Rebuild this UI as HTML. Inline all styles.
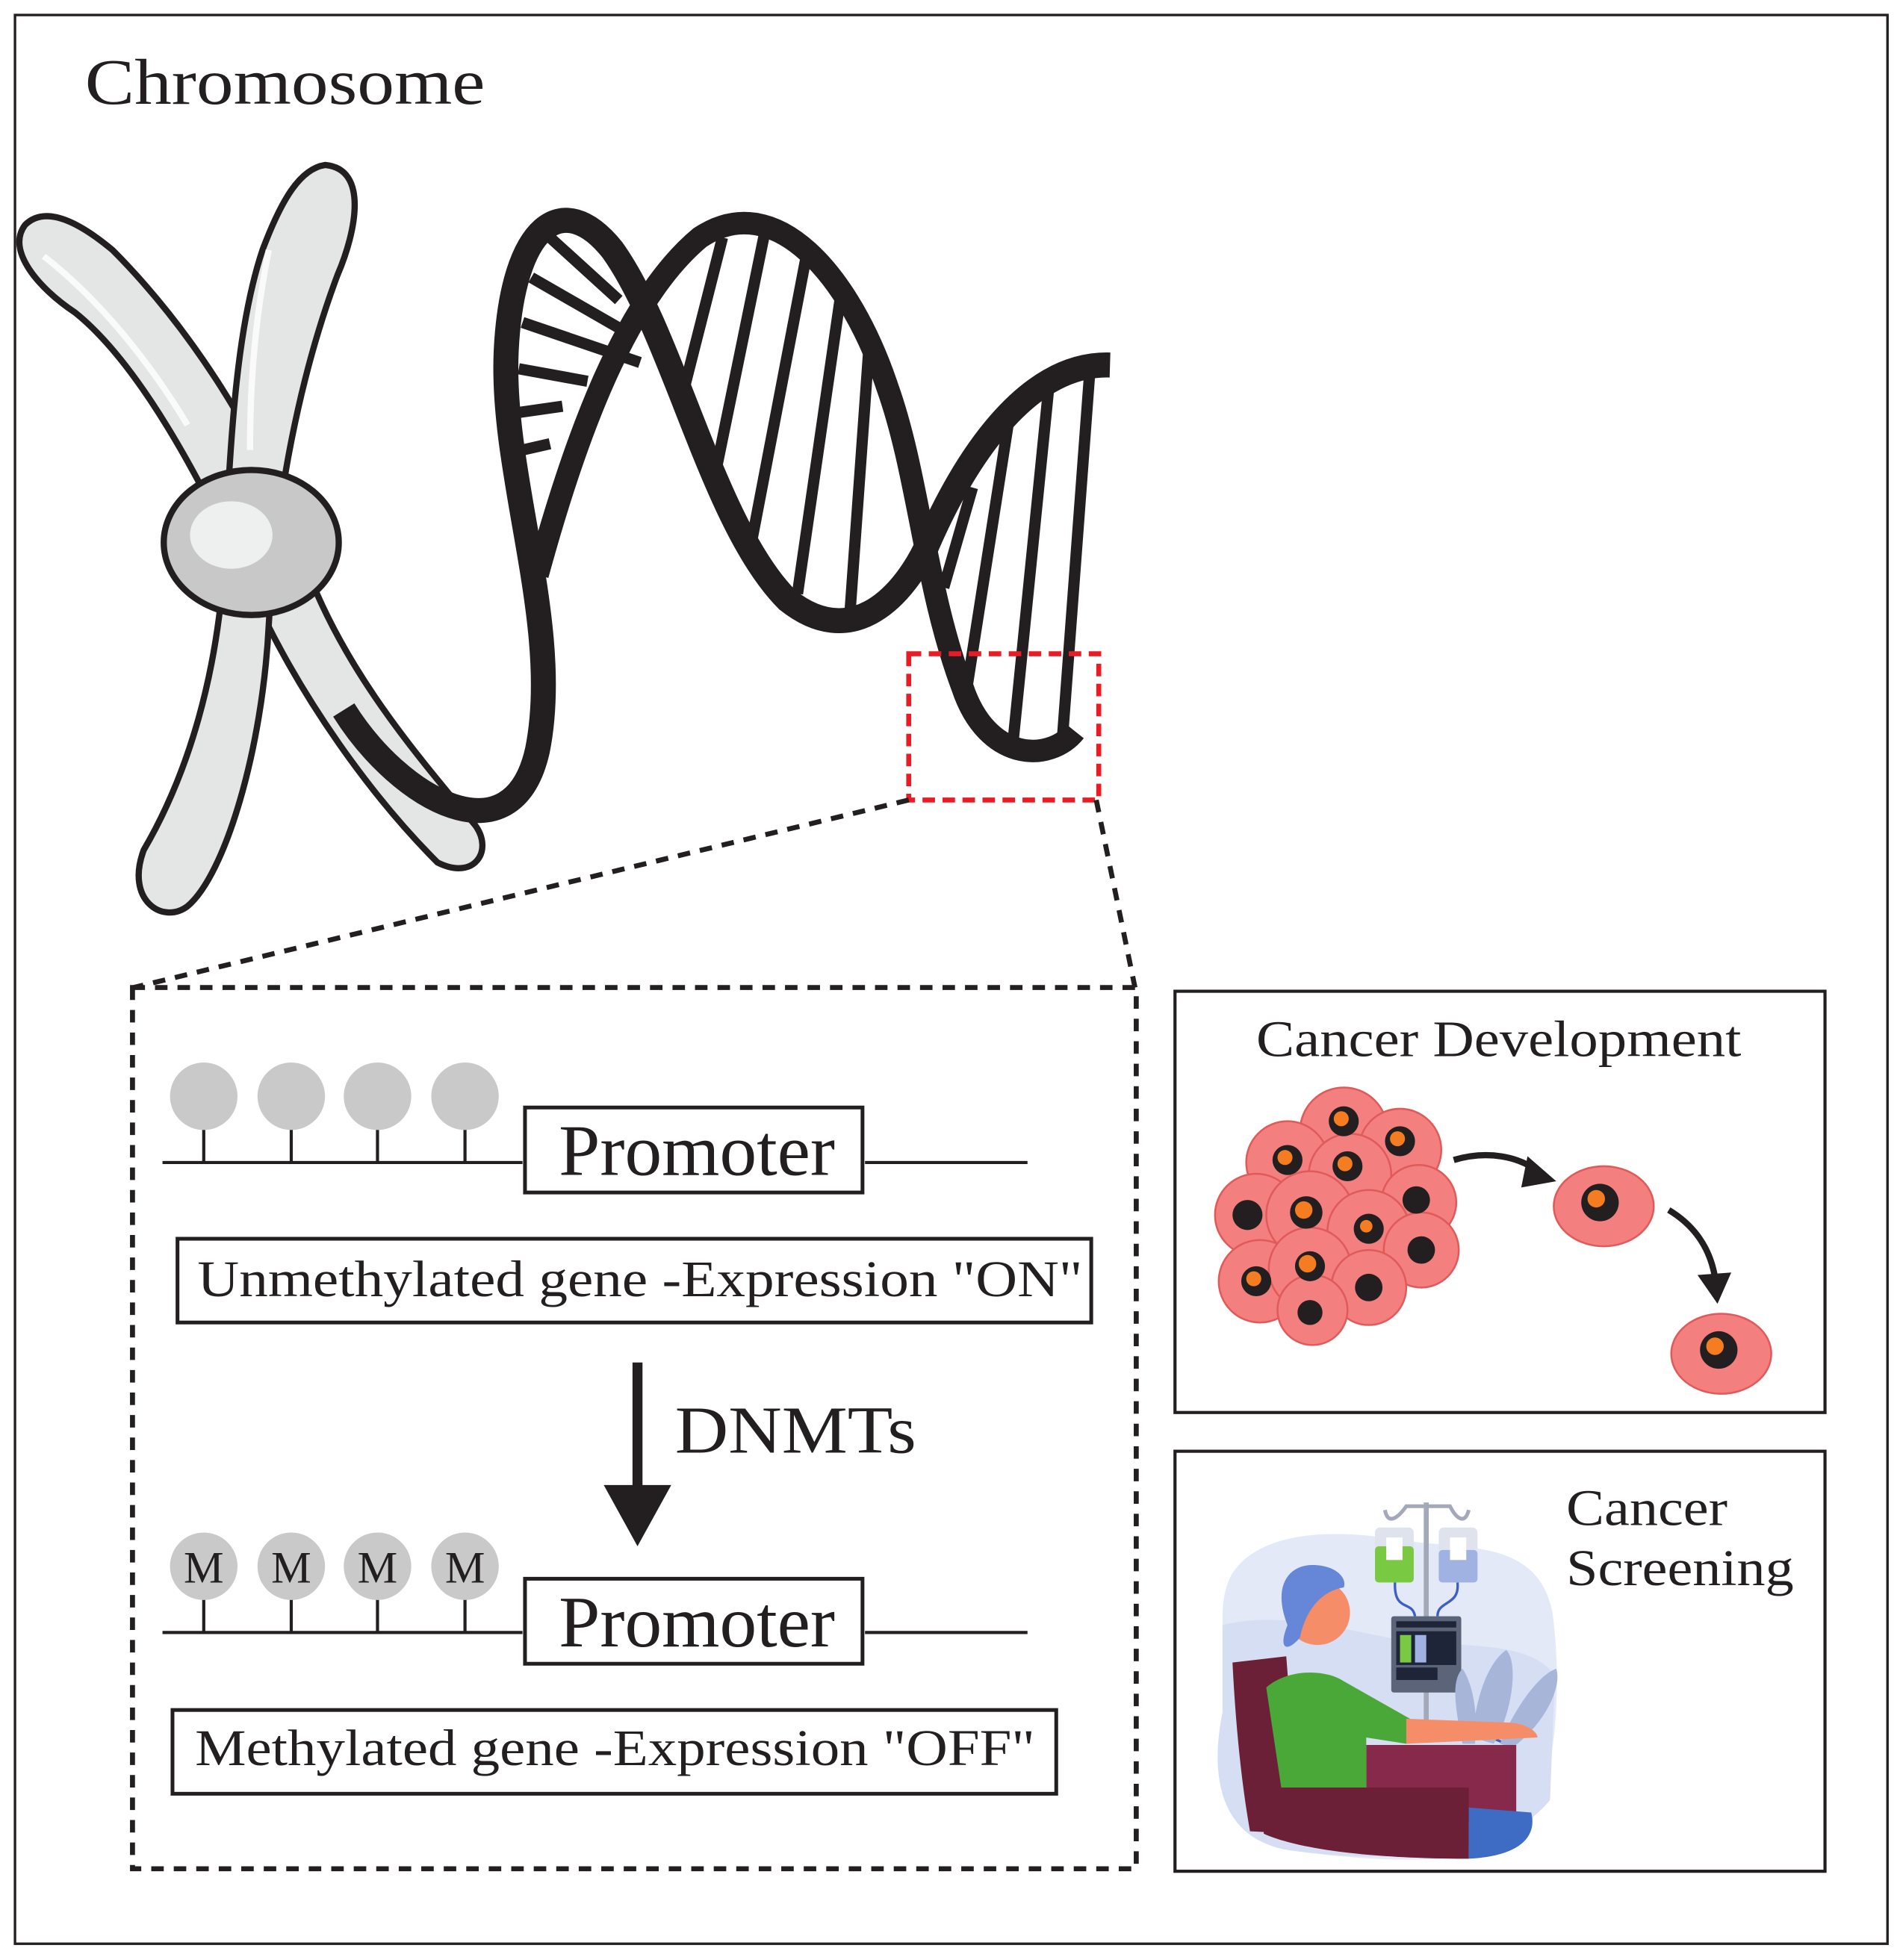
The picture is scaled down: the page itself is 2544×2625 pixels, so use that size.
<!DOCTYPE html>
<html><head><meta charset="utf-8"><style>
html,body{margin:0;padding:0;background:#fff;}
svg{display:block;}
text{font-family:"Liberation Serif",serif;fill:#231f20;}
</style></head><body>
<svg width="2544" height="2625" viewBox="0 0 1520 1568" preserveAspectRatio="none" xmlns="http://www.w3.org/2000/svg">
<rect x="12" y="12" width="1498" height="1543" fill="#fff" stroke="#231f20" stroke-width="2"/>
<text x="68" y="83" font-size="52" textLength="320" lengthAdjust="spacingAndGlyphs">Chromosome</text>

<!-- chromosome -->
<g stroke="#231f20" stroke-width="5" fill="#e4e6e5">
<path d="M20,180 C5,200 30,230 60,250 C110,290 160,380 200,470 C240,560 300,640 350,690 C380,705 395,680 380,660 C330,600 270,530 240,440 C210,350 150,260 90,200 C60,175 35,165 20,180 Z"/>
<path d="M260,132 C240,135 225,160 210,200 C190,260 185,340 180,440 C175,540 150,620 115,680 C100,720 130,740 150,725 C180,700 210,600 215,500 C220,400 240,300 270,220 C285,185 295,135 260,132 Z"/>
<ellipse cx="201" cy="434" rx="70" ry="58" fill="#c7c8c7"/>
</g>
<ellipse cx="185" cy="428" rx="33" ry="27" fill="#eef0ef"/>
<path d="M35,205 C80,240 120,290 150,340" stroke="#fff" stroke-width="5" fill="none" opacity=".8"/>
<path d="M215,200 C205,250 200,300 200,360" stroke="#fff" stroke-width="5" fill="none" opacity=".8"/>

<!-- DNA helix -->
<g stroke="#231f20" fill="none" stroke-linecap="butt">
<path d="M275,568 C320,640 410,690 430,600 C450,500 400,380 405,280 C410,180 450,150 490,200 C540,270 570,420 630,480 C680,520 720,480 740,440 C770,370 820,290 888,292" stroke-width="20"/>
<path d="M430,460 C460,350 500,240 560,190 C620,150 680,220 710,310 C735,380 740,470 770,550 C790,610 840,610 860,585" stroke-width="18"/>
<g stroke-width="9">
<line x1="440" y1="190" x2="495" y2="240"/>
<line x1="425" y1="222" x2="505" y2="268"/>
<line x1="418" y1="258" x2="512" y2="290"/>
<line x1="415" y1="295" x2="470" y2="305"/>
<line x1="415" y1="330" x2="450" y2="325"/>
<line x1="418" y1="360" x2="440" y2="355"/>
<line x1="578" y1="190" x2="545" y2="320"/>
<line x1="612" y1="185" x2="570" y2="390"/>
<line x1="645" y1="205" x2="600" y2="440"/>
<line x1="672" y1="240" x2="638" y2="475"/>
<line x1="695" y1="280" x2="680" y2="490"/>
<line x1="778" y1="390" x2="755" y2="470"/>
<line x1="808" y1="330" x2="772" y2="560"/>
<line x1="840" y1="300" x2="810" y2="598"/>
<line x1="872" y1="295" x2="850" y2="590"/>
</g>
</g>

<!-- red dashed box -->
<rect x="727" y="523" width="152" height="117" fill="none" stroke="#e81c24" stroke-width="4" stroke-dasharray="10,6"/>
<g stroke="#231f20" stroke-width="4" stroke-dasharray="10,8" fill="none">
<line x1="727" y1="640" x2="107" y2="790"/>
<line x1="877" y1="640" x2="908" y2="790"/>
<rect x="106" y="790" width="803" height="705"/>
</g>

<g stroke="#231f20" stroke-width="2.5">
<line x1="130" y1="930" x2="418" y2="930"/>
<line x1="692" y1="930" x2="822" y2="930"/>
<line x1="163" y1="900" x2="163" y2="930"/><line x1="233" y1="900" x2="233" y2="930"/>
<line x1="302" y1="900" x2="302" y2="930"/><line x1="372" y1="900" x2="372" y2="930"/>
<line x1="130" y1="1306" x2="418" y2="1306"/>
<line x1="692" y1="1306" x2="822" y2="1306"/>
<line x1="163" y1="1278" x2="163" y2="1306"/><line x1="233" y1="1278" x2="233" y2="1306"/>
<line x1="302" y1="1278" x2="302" y2="1306"/><line x1="372" y1="1278" x2="372" y2="1306"/>
</g>
<g fill="#c8c9c8">
<circle cx="163" cy="877" r="27"/><circle cx="233" cy="877" r="27"/><circle cx="302" cy="877" r="27"/><circle cx="372" cy="877" r="27"/>
<circle cx="163" cy="1253" r="27"/><circle cx="233" cy="1253" r="27"/><circle cx="302" cy="1253" r="27"/><circle cx="372" cy="1253" r="27"/>
</g>
<g font-size="36" text-anchor="middle">
<text x="163" y="1266">M</text><text x="233" y="1266">M</text><text x="302" y="1266">M</text><text x="372" y="1266">M</text>
</g>
<g fill="#fff" stroke="#231f20" stroke-width="3">
<rect x="420" y="886" width="270" height="68"/>
<rect x="420" y="1263" width="270" height="68"/>
<rect x="142" y="991" width="731" height="67"/>
<rect x="138" y="1368" width="707" height="67"/>
</g>
<text x="447" y="940" font-size="58" textLength="221" lengthAdjust="spacingAndGlyphs">Promoter</text>
<text x="447" y="1317" font-size="58" textLength="221" lengthAdjust="spacingAndGlyphs">Promoter</text>
<text x="158" y="1037" font-size="41" textLength="708" lengthAdjust="spacingAndGlyphs">Unmethylated gene -Expression "ON"</text>
<text x="156" y="1412" font-size="41" textLength="672" lengthAdjust="spacingAndGlyphs">Methylated gene -Expression "OFF"</text>
<line x1="510" y1="1090" x2="510" y2="1192" stroke="#231f20" stroke-width="8"/>
<polygon points="483,1188 537,1188 510,1237" fill="#231f20"/>
<text x="540" y="1162" font-size="54" textLength="193" lengthAdjust="spacingAndGlyphs">DNMTs</text>

<!-- right boxes -->
<rect x="940" y="793" width="520" height="337" fill="#fff" stroke="#231f20" stroke-width="2.5"/>
<rect x="940" y="1161" width="520" height="336" fill="#fff" stroke="#231f20" stroke-width="2.5"/>
<text x="1005" y="845" font-size="41" textLength="388" lengthAdjust="spacingAndGlyphs">Cancer Development</text>
<text x="1253" y="1220" font-size="41" textLength="129" lengthAdjust="spacingAndGlyphs">Cancer</text>
<text x="1253" y="1268" font-size="41" textLength="182" lengthAdjust="spacingAndGlyphs">Screening</text>

<!-- cells -->
<g stroke="#e05a5a" stroke-width="1.5" fill="#f47f7f">
<circle cx="1075" cy="905" r="35"/><circle cx="1120" cy="920" r="33"/><circle cx="1030" cy="930" r="33"/>
<circle cx="1080" cy="940" r="33"/><circle cx="1135" cy="962" r="30"/><circle cx="1005" cy="972" r="33"/>
<circle cx="1048" cy="972" r="35"/><circle cx="1095" cy="985" r="33"/><circle cx="1137" cy="1000" r="30"/>
<circle cx="1008" cy="1025" r="33"/><circle cx="1048" cy="1015" r="33"/><circle cx="1095" cy="1030" r="30"/>
<circle cx="1050" cy="1048" r="28"/>
<ellipse cx="1283" cy="965" rx="40" ry="32"/><ellipse cx="1377" cy="1083" rx="40" ry="32"/>
</g>
<g fill="#231f20">
<circle cx="1075" cy="897" r="12"/><circle cx="1120" cy="913" r="12"/><circle cx="1030" cy="928" r="12"/>
<circle cx="1078" cy="933" r="12"/><circle cx="1133" cy="960" r="11"/><circle cx="998" cy="972" r="12"/>
<circle cx="1045" cy="970" r="13"/><circle cx="1095" cy="983" r="12"/><circle cx="1137" cy="1000" r="11"/>
<circle cx="1005" cy="1025" r="12"/><circle cx="1048" cy="1013" r="12"/><circle cx="1095" cy="1030" r="11"/>
<circle cx="1048" cy="1050" r="10"/>
<circle cx="1280" cy="962" r="15"/><circle cx="1375" cy="1080" r="15"/>
</g>
<g fill="#f57c20">
<circle cx="1073" cy="895" r="6"/><circle cx="1118" cy="911" r="6"/><circle cx="1028" cy="926" r="6"/>
<circle cx="1076" cy="931" r="6"/><circle cx="1043" cy="968" r="7"/><circle cx="1046" cy="1011" r="7"/>
<circle cx="1093" cy="981" r="5"/><circle cx="1003" cy="1023" r="6"/>
<circle cx="1277" cy="959" r="7"/><circle cx="1372" cy="1077" r="7"/>
</g>
<g fill="none" stroke="#231f20" stroke-width="5">
<path d="M1163,928 C1190,920 1215,925 1232,938"/>
<path d="M1335,968 C1355,980 1368,998 1372,1022"/>
</g>
<polygon points="1222,925 1245,945 1217,950" fill="#231f20"/>
<polygon points="1358,1020 1385,1018 1374,1043" fill="#231f20"/>

<!-- screening illustration -->
<path d="M985,1260 C1010,1220 1080,1225 1120,1232 C1170,1240 1230,1230 1242,1290 C1250,1350 1245,1430 1220,1465 C1190,1495 1100,1490 1030,1480 C975,1470 968,1420 978,1370 C985,1320 970,1290 985,1260 Z" fill="#e4e9f7"/>
<path d="M978,1300 C1020,1290 1060,1300 1110,1310 C1170,1320 1220,1310 1244,1340 L1240,1440 C1200,1490 1100,1490 1030,1480 C975,1470 968,1420 978,1370 Z" fill="#d6def4"/>
<line x1="1141" y1="1202" x2="1141" y2="1380" stroke="#a3a9b8" stroke-width="4"/>
<path d="M1108,1208 C1110,1220 1118,1215 1125,1205 L1160,1205 C1165,1215 1172,1220 1175,1208" stroke="#a3a9b8" stroke-width="3" fill="none"/>
<rect x="1100" y="1222" width="31" height="44" rx="4" fill="#dfe3ee"/>
<rect x="1100" y="1237" width="31" height="29" rx="3" fill="#7ac943"/>
<rect x="1151" y="1222" width="31" height="44" rx="4" fill="#dfe3ee"/>
<rect x="1151" y="1240" width="31" height="26" rx="3" fill="#9fb2e2"/>
<rect x="1109" y="1230" width="13" height="18" fill="#fff"/><rect x="1160" y="1230" width="13" height="18" fill="#fff"/>
<path d="M1116,1266 C1115,1290 1130,1280 1132,1293 M1166,1266 C1168,1285 1150,1280 1150,1293" stroke="#3d5fc4" stroke-width="2" fill="none"/>
<rect x="1113" y="1293" width="56" height="61" rx="2" fill="#5b6478"/>
<rect x="1117" y="1297" width="48" height="5" fill="#1e2538"/>
<rect x="1117" y="1305" width="48" height="27" fill="#1e2538"/>
<rect x="1120" y="1308" width="9" height="22" fill="#7ac943"/><rect x="1132" y="1308" width="9" height="22" fill="#9fb2e2"/>
<rect x="1117" y="1334" width="33" height="10" fill="#1e2538"/>
<path d="M1170,1354 C1165,1380 1180,1385 1205,1395" stroke="#3d5fc4" stroke-width="2" fill="none"/>
<path d="M1178,1390 C1180,1360 1190,1330 1205,1320 C1215,1330 1210,1370 1195,1395 Z M1200,1395 C1210,1370 1230,1340 1245,1335 C1250,1350 1235,1380 1210,1398 Z M1170,1395 C1165,1370 1160,1345 1170,1335 C1180,1350 1182,1375 1180,1395 Z" fill="#a7b6d8"/>
<path d="M986,1330 L1029,1325 L1040,1467 L1000,1465 C992,1420 988,1370 986,1330 Z" fill="#6b2037"/>
<path d="M1093,1396 L1213,1396 L1213,1458 L1093,1458 Z" fill="#87294a"/>
<path d="M1013,1350 C1030,1335 1060,1335 1075,1345 L1128,1375 L1125,1395 L1093,1390 L1093,1430 L1025,1430 Z" fill="#4aa838"/>
<path d="M1125,1375 L1205,1378 C1220,1378 1230,1385 1230,1390 L1125,1395 Z" fill="#f58e68"/>
<path d="M1175,1446 L1225,1450 C1230,1470 1215,1485 1175,1487 Z" fill="#3e6bc4"/>
<path d="M1011,1430 L1175,1430 L1175,1487 C1100,1487 1040,1480 1011,1467 Z" fill="#6b2037"/>
<circle cx="1054" cy="1290" r="26" fill="#f58e68"/>
<path d="M1030,1300 C1018,1270 1030,1252 1050,1252 C1068,1252 1078,1262 1075,1270 C1060,1272 1045,1285 1040,1310 C1030,1322 1022,1320 1030,1300 Z" fill="#6687d8"/>
</svg>
</body></html>
